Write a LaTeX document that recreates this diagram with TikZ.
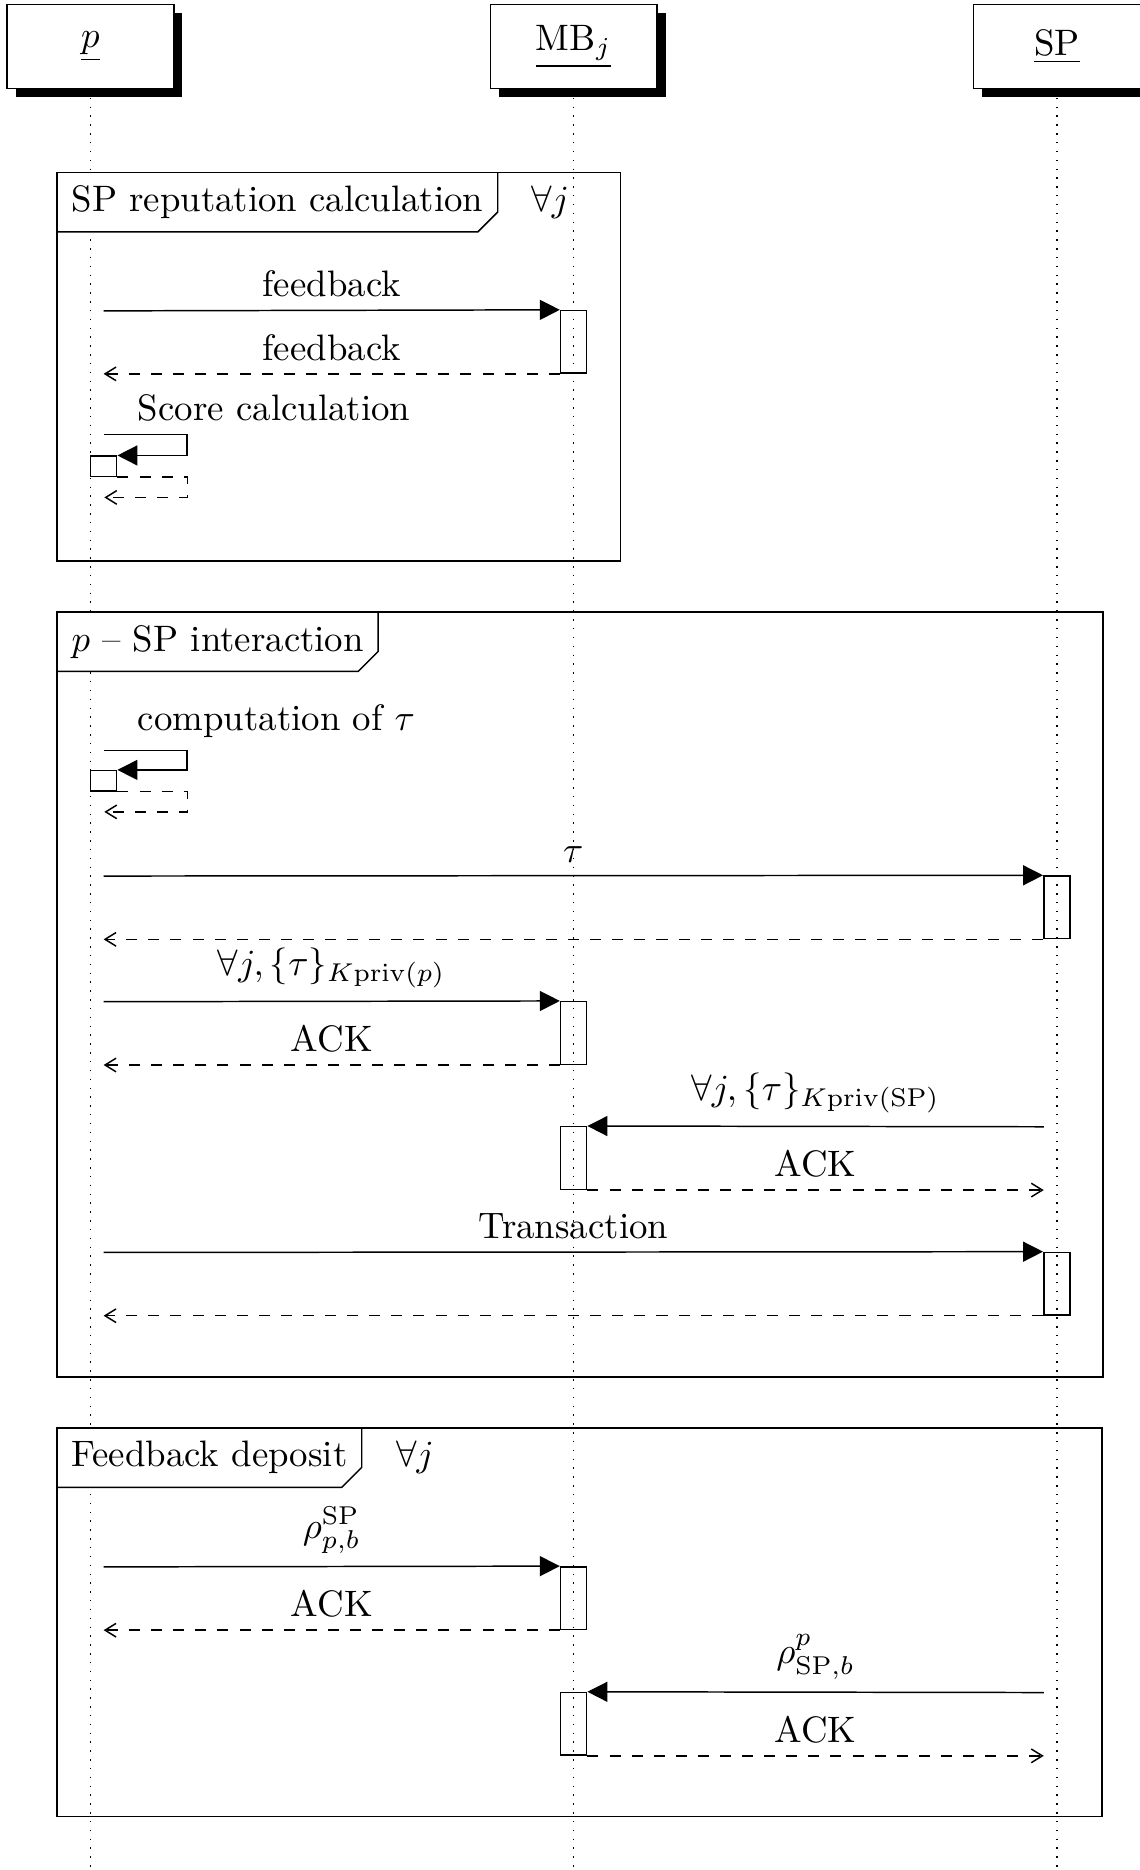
\documentclass[tikz,border=0pt]{standalone}
\usepackage{amsmath,amssymb}
\usepackage{tikz}
\usetikzlibrary{arrows.meta,positioning,shadows}
\tikzstyle{inst} = [draw, fill=white, rectangle, minimum width=45.3pt, minimum height=22.8pt,
drop shadow={opacity=1, fill=black, shadow xshift=2.35pt, shadow yshift=-2.35pt}]
\tikzstyle{lifeline} = [dotted]
\tikzstyle{actbox} = [draw, rectangle, inner sep=0pt, minimum width=7.1pt, minimum height=17pt]
\tikzstyle{selfbox} = [draw, rectangle, inner sep=0pt, minimum width=7.1pt, minimum height=5.5pt]
\tikzstyle{callmsg} = [-{Triangle[length=5.4pt,width=5.4pt]}]
\tikzstyle{retmsg} = [dashed, -{Straight Barb[length=3pt,width=3.7pt]}]
\tikzstyle{flabel} = [fill=white, anchor=north west, inner xsep=3.7pt, text height=7pt, text depth=2pt]

\begin{document}
\begin{tikzpicture}[x=0.3235pt, y=-0.3235pt]
		\useasboundingbox (0,0) rectangle (957,1570);
		\node [inst] (p) at (75.9,39) {\underline{$p$}};
		\node [inst, right of=p, node distance=131.25pt] (mb) {\underline{MB$_j$}};
		\node [inst, right of=mb, node distance=131.25pt] (sp) {\underline{SP}};
		\coordinate (bot) at (0,1570);
		\draw [lifeline] ([yshift=-2.35pt]p.south) -- (p |- bot);
		\draw [lifeline] ([yshift=-2.35pt]mb.south) -- (mb |- bot);
		\draw [lifeline] ([yshift=-2.35pt]sp.south) -- (sp |- bot);

		\coordinate (f1_nw) at (48,145);
		\coordinate (f1_se) at (521,471);
		\node [flabel] (f1_l) at (f1_nw) {SP reputation calculation};
		\draw (f1_nw) rectangle (f1_se);
		\draw (f1_l.north east) -- ([yshift=5.4pt]f1_l.south east) -- ([xshift=-5.4pt]f1_l.south east) -- (f1_l.south west);
		\node [right=5.6pt of f1_l] (f1_all) {$\forall j$};

			\node [actbox] (mb_a1) at (481.6,287) {};
			\coordinate (p_s1) at (87,261);
			\draw [callmsg] (p_s1) -- node[above] {feedback} (mb_a1.north west);
			\draw [retmsg] (mb_a1.south west) -- node[above] {feedback} (p_s1 |- mb_a1.south);

			\coordinate (p_s2) at (87,365);
			\node [selfbox] (p_b2) at (87,391.5) {};
			\node [anchor=south west] (p_l2) at ([xshift=5.8pt]p_s2) {Score calculation};
			\draw [callmsg] (p_s2) -- ++(70,0) |- (p_b2.north east);
			\draw [retmsg] (p_b2.south east) -| ++(59,17) -- ++(-70,0);

		\coordinate (f2_nw) at (48,514);
		\coordinate (f2_se) at (926,1156);
		\node [flabel] (f2_l) at (f2_nw) {$p$ -- SP interaction};
		\draw (f2_nw) rectangle (f2_se);
		\draw (f2_l.north east) -- ([yshift=5.4pt]f2_l.south east) -- ([xshift=-5.4pt]f2_l.south east) -- (f2_l.south west);

			\coordinate (p_s3) at (87,630);
			\node [selfbox] (p_b3) at (87,655.5) {};
			\node [anchor=south west] (p_l3) at ([xshift=5.8pt]p_s3) {computation of $\tau$};
			\draw [callmsg] (p_s3) -- ++(70,0) |- (p_b3.north east);
			\draw [retmsg] (p_b3.south east) -| ++(59,17) -- ++(-70,0);

			\node [actbox] (sp_a1) at (887.3,761.75) {};
			\coordinate (p_s4) at (87,735.5);
			\draw [callmsg] (p_s4) -- node[above] {$\tau$} (sp_a1.north west);
			\draw [retmsg] (sp_a1.south west) -- (p_s4 |- sp_a1.south);

			\node [actbox] (mb_a2) at (481.6,867.25) {};
			\coordinate (p_s5) at (87,841);
			\draw [callmsg] (p_s5) -- node[above] {$\forall j, \{\tau\}_{K\mathrm{priv}(p)}$} (mb_a2.north west);
			\draw [retmsg] (mb_a2.south west) -- node[above] {ACK} (p_s5 |- mb_a2.south);

			\node [actbox] (mb_a3) at (481.6,972.25) {};
			\coordinate (sp_s1) at (876.3,946);
			\draw [callmsg] (sp_s1) -- node[above] {$\forall j, \{\tau\}_{K\mathrm{priv}(\mathrm{SP})}$} (mb_a3.north east);
			\draw [retmsg] (mb_a3.south east) -- node[above] {ACK} (sp_s1 |- mb_a3.south);

			\node [actbox] (sp_a2) at (887.3,1077.75) {};
			\coordinate (p_s6) at (87,1051.5);
			\draw [callmsg] (p_s6) -- node[above] {Transaction} (sp_a2.north west);
			\draw [retmsg] (sp_a2.south west) -- (p_s6 |- sp_a2.south);

		\coordinate (f3_nw) at (48,1199);
		\coordinate (f3_se) at (925,1525);
		\node [flabel] (f3_l) at (f3_nw) {Feedback deposit};
		\draw (f3_nw) rectangle (f3_se);
		\draw (f3_l.north east) -- ([yshift=5.4pt]f3_l.south east) -- ([xshift=-5.4pt]f3_l.south east) -- (f3_l.south west);
		\node [right=5.8pt of f3_l] (f3_all) {$\forall j$};

			\node [actbox] (mb_a4) at (481.6,1341.75) {};
			\coordinate (p_s7) at (87,1315.5);
			\draw [callmsg] (p_s7) -- node[above] {$\rho^{\mathrm{SP}}_{p,b}$} (mb_a4.north west);
			\draw [retmsg] (mb_a4.south west) -- node[above] {ACK} (p_s7 |- mb_a4.south);

			\node [actbox] (mb_a5) at (481.6,1447.25) {};
			\coordinate (sp_s2) at (876.3,1421);
			\draw [callmsg] (sp_s2) -- node[above] {$\rho^{p}_{\mathrm{SP},b}$} (mb_a5.north east);
			\draw [retmsg] (mb_a5.south east) -- node[above] {ACK} (sp_s2 |- mb_a5.south);
\end{tikzpicture}
\end{document}
